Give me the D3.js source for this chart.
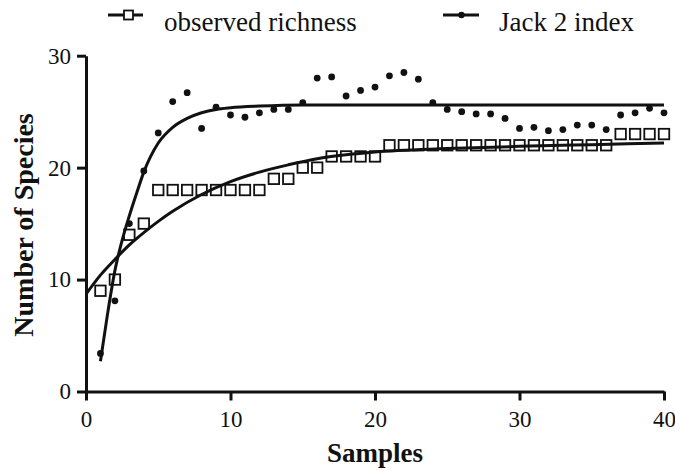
<!DOCTYPE html>
<html>
<head>
<meta charset="utf-8">
<script src="https://cdn.jsdelivr.net/npm/d3@7"></script>
<style>
body{margin:0;background:#fff;}
text{font-family:"Liberation Serif","Times New Roman",serif;fill:#111;}
</style>
</head>
<body>
<script>
var w = 675;
var h = 471;

// samples on the x axis
var samples = [1,2,3,4,5,6,7,8,9,10,11,12,13,14,15,16,17,18,19,20,
               21,22,23,24,25,26,27,28,29,30,31,32,33,34,35,36,37,38,39,40];

var observed = [9,10,14,15,18,18,18,18,18,18,18,18,19,19,20,20,21,21,21,21,
                22,22,22,22,22,22,22,22,22,22,22,22,22,22,22,22,23,23,23,23];

var jack2 = [3.4,8.1,15.0,19.7,23.1,25.9,26.7,23.5,25.4,24.7,
             24.5,24.9,25.2,25.2,25.8,28.0,28.1,26.4,26.9,27.2,
             28.2,28.5,27.9,25.8,25.2,25.0,24.8,24.8,24.4,23.5,
             23.6,23.3,23.4,23.8,23.8,23.4,24.7,24.9,25.3,24.9];

// fitted curves
var obsFitX = [0,1,2,3,4,5,6,8,10,12,14,16,18,20,25,30,35,40];
var obsFitY = [8.7,10.4,11.8,13.1,14.2,15.2,16.1,17.6,18.75,19.6,20.25,20.8,21.15,21.4,21.7,21.9,22.05,22.2];

var jackFitX = [1,1.5,2,2.5,3,3.5,4,5,6,7,8,9,10,12,15,20,40];
var jackFitY = [2.7,7.0,10.8,13.5,15.7,17.7,19.6,22.2,23.6,24.4,24.9,25.2,25.35,25.5,25.6,25.6,25.6];

var xTicks = [0,10,20,30,40];
var yTicks = [0,10,20,30];

var seriesNames = ["observed richness", "Jack 2 index"];

var ink = "#111";

var x = d3.scaleLinear().domain([0,40]).range([86,664]);
var y = d3.scaleLinear().domain([0,30]).range([391.5,55.7]);

var svg = d3.select("body")
    .append("svg")
    .attr("width", w)
    .attr("height", h);

svg.append("rect").attr("width", w).attr("height", h).attr("fill", "#fff");

// axes
var xAxis = svg.append("g")
    .attr("transform", "translate(0," + y(0) + ")")
    .call(d3.axisBottom(x).tickValues(xTicks).tickSize(9).tickSizeOuter(0).tickPadding(10));

var yAxis = svg.append("g")
    .attr("transform", "translate(" + x(0) + ",0)")
    .call(d3.axisLeft(y).tickValues(yTicks).tickSize(9).tickSizeOuter(0).tickPadding(6));

[xAxis, yAxis].forEach(function(g){
    g.select(".domain").attr("stroke", ink).attr("stroke-width", 3);
    g.selectAll(".tick line").attr("stroke", ink).attr("stroke-width", 3);
    g.selectAll(".tick text")
        .style("font-size", "23px")
        .attr("fill", ink);
});

// fit lines
var line = d3.line()
    .x(function(d){ return x(d[0]); })
    .y(function(d){ return y(d[1]); })
    .curve(d3.curveMonotoneX);

svg.append("path")
    .datum(d3.zip(obsFitX, obsFitY))
    .attr("d", line)
    .attr("fill", "none")
    .attr("stroke", ink)
    .attr("stroke-width", 3);

svg.append("path")
    .datum(d3.zip(jackFitX, jackFitY))
    .attr("d", line)
    .attr("fill", "none")
    .attr("stroke", ink)
    .attr("stroke-width", 3);

// observed richness squares
var sq = 10.5;
svg.selectAll("rect.obs")
    .data(d3.zip(samples, observed))
    .enter()
    .append("rect")
    .attr("class", "obs")
    .attr("x", function(d){ return x(d[0]) - sq/2; })
    .attr("y", function(d){ return y(d[1]) - sq/2; })
    .attr("width", sq)
    .attr("height", sq)
    .attr("fill", "none")
    .attr("stroke", ink)
    .attr("stroke-width", 1.8);

// jack 2 dots
svg.selectAll("circle.jack")
    .data(d3.zip(samples, jack2))
    .enter()
    .append("circle")
    .attr("class", "jack")
    .attr("cx", function(d){ return x(d[0]); })
    .attr("cy", function(d){ return y(d[1]); })
    .attr("r", 3.4)
    .attr("fill", ink);

// axis titles
svg.append("text")
    .attr("x", 375)
    .attr("y", 462)
    .attr("text-anchor", "middle")
    .style("font-size", "27px")
    .style("font-weight", "bold")
    .text("Samples");

svg.append("text")
    .attr("transform", "translate(33,225) rotate(-90)")
    .attr("text-anchor", "middle")
    .style("font-size", "28px")
    .style("font-weight", "bold")
    .text("Number of Species");

// legend
var legend = svg.append("g");

legend.append("line")
    .attr("x1", 108).attr("x2", 143).attr("y1", 15).attr("y2", 15)
    .attr("stroke", ink).attr("stroke-width", 3);
legend.append("rect")
    .attr("x", 124).attr("y", 10.5).attr("width", 9).attr("height", 9)
    .attr("fill", "#fff").attr("stroke", ink).attr("stroke-width", 1.8);
legend.append("text")
    .attr("x", 164).attr("y", 31)
    .style("font-size", "27px")
    .text(seriesNames[0]);

legend.append("line")
    .attr("x1", 443).attr("x2", 479).attr("y1", 15).attr("y2", 15)
    .attr("stroke", ink).attr("stroke-width", 3);
legend.append("circle")
    .attr("cx", 461.5).attr("cy", 15).attr("r", 3.2)
    .attr("fill", ink);
legend.append("text")
    .attr("x", 499).attr("y", 31)
    .style("font-size", "27px")
    .text(seriesNames[1]);
</script>
</body>
</html>
